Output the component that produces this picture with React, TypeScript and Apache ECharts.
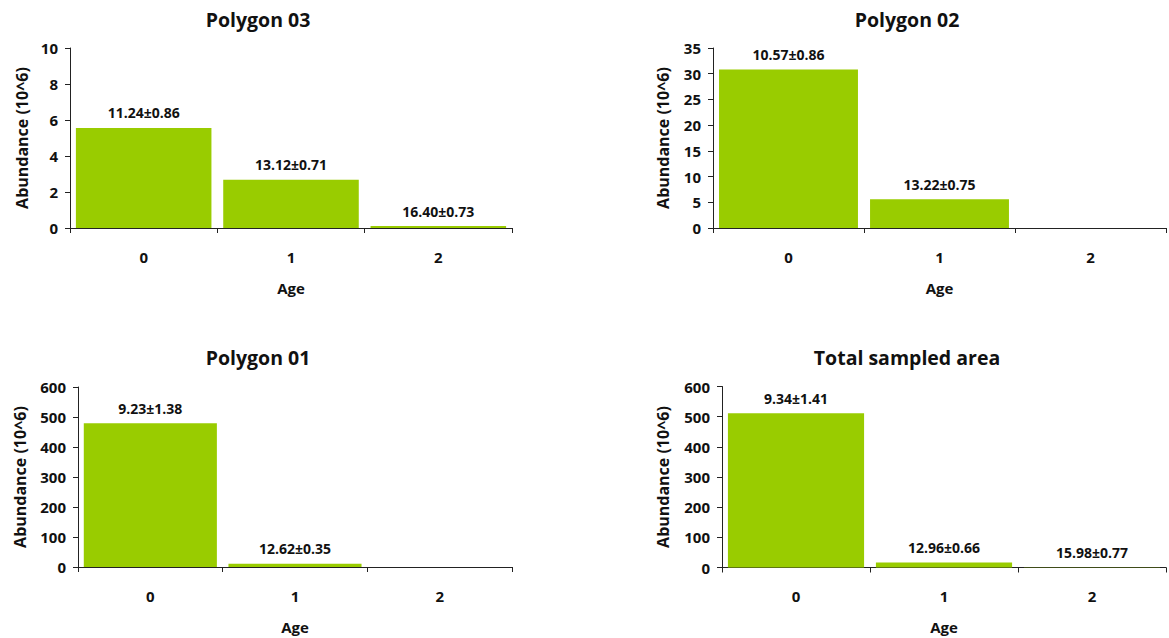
import React, { useEffect, useRef } from "react";
import * as echarts from "echarts";

const categories = ["0", "1", "2"];

const titles = ["Polygon 03", "Polygon 02", "Polygon 01", "Total sampled area"];

const poly03Values = [5.56, 2.68, 0.11];
const poly03Labels = ["11.24±0.86", "13.12±0.71", "16.40±0.73"];

const poly02Values = [30.8, 5.6, 0];
const poly02Labels = ["10.57±0.86", "13.22±0.75", ""];

const poly01Values = [479, 11, 0];
const poly01Labels = ["9.23±1.38", "12.62±0.35", ""];

const totalValues = [511, 16.5, 0.8];
const totalLabels = ["9.34±1.41", "12.96±0.66", "15.98±0.77"];

const yMax = [10, 35, 600, 600];
const yInterval = [2, 5, 100, 100];

const FONT = "Open Sans";
const BAR = "#99cc00";
const AXIS = "#222";

export default function App() {
  const ref = useRef<HTMLDivElement>(null);

  useEffect(() => {
    if (!ref.current) return;
    const chart = echarts.init(ref.current, undefined, { renderer: "svg" });

    const grids = [
      { left: 70, top: 48, width: 442, height: 180 },
      { left: 713, top: 48, width: 453, height: 180 },
      { left: 78, top: 387, width: 434, height: 180 },
      { left: 722, top: 386.5, width: 444, height: 181 },
    ];
    const titlePos = [
      { left: 258, top: 9 },
      { left: 907, top: 9 },
      { left: 258, top: 347 },
      { left: 907, top: 347 },
    ];
    const yNameGap = [40, 42, 50, 51];
    const valuesList = [poly03Values, poly02Values, poly01Values, totalValues];
    const labelsList = [poly03Labels, poly02Labels, poly01Labels, totalLabels];

    const option: any = {
      animation: false,
      backgroundColor: "#ffffff",
      textStyle: { fontFamily: FONT },
      title: titles.map((t, i) => ({
        text: t,
        left: titlePos[i].left,
        top: titlePos[i].top,
        textAlign: "center",
        padding: 0,
        textStyle: { fontFamily: FONT, fontWeight: "bold", fontSize: 19.5, color: "#111" },
      })),
      grid: grids.map((g) => ({ ...g, containLabel: false })),
      xAxis: grids.map((_, i) => ({
        type: "category",
        gridIndex: i,
        data: categories,
        boundaryGap: true,
        name: "Age",
        nameLocation: "middle",
        nameGap: 52,
        nameTextStyle: { fontFamily: FONT, fontWeight: "bold", fontSize: 15, color: "#111" },
        axisLine: { show: true, lineStyle: { color: AXIS, width: 1 } },
        axisTick: { show: true, length: 5, inside: false, lineStyle: { color: AXIS } },
        axisLabel: { margin: 21, fontFamily: FONT, fontWeight: "bold", fontSize: 15, color: "#111" },
        splitLine: { show: false },
      })),
      yAxis: grids.map((_, i) => ({
        type: "value",
        gridIndex: i,
        min: 0,
        max: yMax[i],
        interval: yInterval[i],
        name: "Abundance (10^6)",
        nameLocation: "middle",
        nameGap: yNameGap[i],
        nameTextStyle: { fontFamily: FONT, fontWeight: "bold", fontSize: 16, color: "#111" },
        axisLine: { show: true, lineStyle: { color: AXIS, width: 1 } },
        axisTick: { show: true, length: 5, inside: false, lineStyle: { color: AXIS } },
        axisLabel: { margin: 12, fontFamily: FONT, fontWeight: "bold", fontSize: 15, color: "#111" },
        splitLine: { show: false },
      })),
      series: valuesList.map((vals, i) => ({
        type: "bar",
        xAxisIndex: i,
        yAxisIndex: i,
        data: vals,
        barCategoryGap: "8%",
        itemStyle: { color: BAR },
        label: {
          show: true,
          position: "top",
          distance: 8,
          fontFamily: FONT,
          fontWeight: "bold",
          fontSize: 14,
          color: "#111",
          formatter: (p: any) => labelsList[i][p.dataIndex],
        },
      })),
    };

    chart.setOption(option);
    return () => chart.dispose();
  }, []);

  return (
    <div
      ref={ref}
      style={{ position: "absolute", left: 0, top: 0, width: 1169, height: 638 }}
    />
  );
}
